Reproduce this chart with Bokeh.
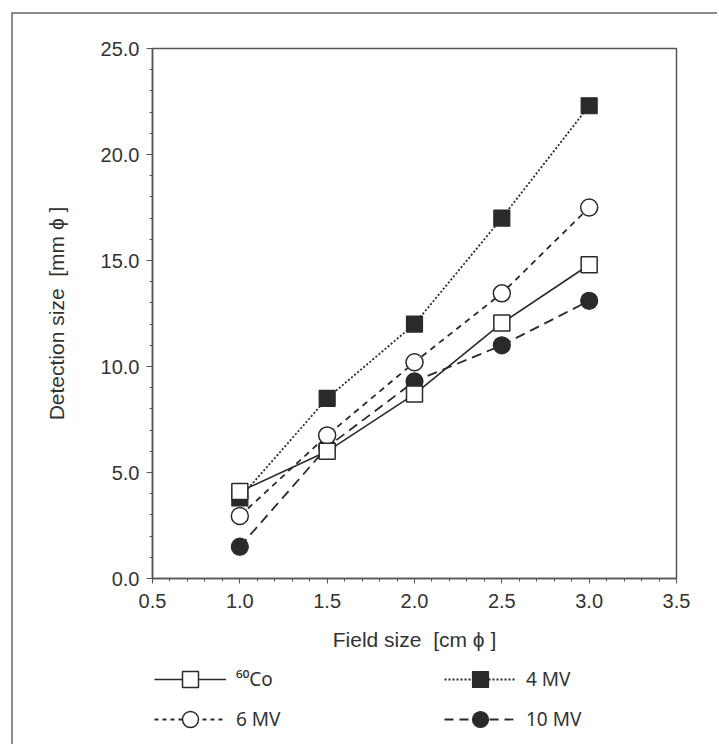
from bokeh.plotting import figure
from bokeh.layouts import column
from bokeh.models import (Range1d, SingleIntervalTicker, PrintfTickFormatter, Legend,
                          LegendItem, Label)
from bokeh.embed import file_html
from bokeh.resources import INLINE

# ---- data ----
field_size = [1.0, 1.5, 2.0, 2.5, 3.0]          # cm phi
co60 = [4.1, 6.0, 8.7, 12.05, 14.8]               # 60Co
mv4 = [3.8, 8.5, 12.0, 17.0, 22.3]                # 4 MV
mv6 = [2.95, 6.75, 10.2, 13.45, 17.5]             # 6 MV
mv10 = [1.5, 6.2, 9.3, 11.0, 13.1]                # 10 MV
series_labels = ["\u2076\u2070Co", "4 MV", "6 MV", "10 MV"]
x_label = "Field size\u00a0\u00a0[cm\u00a0\u03d5\u00a0]"
y_label = "Detection size\u00a0\u00a0[mm\u00a0\u03d5\u00a0]"

FONT = "Liberation Sans"
LFONT = "Noto Sans"
INK = "#2a2a2a"
TXT = "#333333"
AXC = "#555555"

# series styles
STYLES = {
    "co": dict(line_dash="solid", line_width=1.6, marker="square", fill="white", mlw=1.5, size=16),
    "4": dict(line_dash="2 2", line_width=1.8, marker="square", fill=INK, mlw=1.2, size=16),
    "6": dict(line_dash="6 5", line_width=1.8, marker="circle", fill="white", mlw=1.5, size=17),
    "10": dict(line_dash="10 6", line_width=1.8, marker="circle", fill=INK, mlw=1.2, size=17),
}
LEGEND_DASH = {"co": "solid", "4": "2 2", "6": "4 4", "10": "9 6"}
SERIES = {"co": co60, "4": mv4, "6": mv6, "10": mv10}

W = 704
# ---------------- main chart ----------------
p = figure(width=W, height=606, x_range=Range1d(0.5, 3.5), y_range=Range1d(0, 25),
           output_backend="svg", toolbar_location=None,
           min_border_left=139, min_border_top=34, min_border_right=41, min_border_bottom=42)
p.grid.visible = False
p.outline_line_color = AXC
p.outline_line_width = 1.5
p.background_fill_color = "white"
p.border_fill_color = "white"

p.xaxis.ticker = SingleIntervalTicker(interval=0.5, num_minor_ticks=5)
p.yaxis.ticker = SingleIntervalTicker(interval=5, num_minor_ticks=5)
p.xaxis.formatter = PrintfTickFormatter(format="%.1f")
p.yaxis.formatter = PrintfTickFormatter(format="%.1f")
p.yaxis.axis_label = y_label
for ax in (p.xaxis, p.yaxis):
    ax.axis_line_color = AXC
    ax.axis_line_width = 1.5
    ax.major_tick_line_color = AXC
    ax.minor_tick_line_color = AXC
    ax.major_tick_in = 0
    ax.minor_tick_in = 0
    ax.major_label_text_font = FONT
    ax.major_label_text_font_size = "20px"
    ax.major_label_text_color = TXT
    ax.axis_label_text_font = FONT
    ax.axis_label_text_font_size = "21px"
    ax.axis_label_text_font_style = "normal"
    ax.axis_label_text_color = TXT
p.xaxis.major_tick_out = 5
p.xaxis.minor_tick_out = 3
p.yaxis.major_tick_out = 6
p.yaxis.minor_tick_out = 3
p.xaxis.major_label_standoff = 10
p.yaxis.major_label_standoff = 7
p.yaxis.axis_label_standoff = 30

# lines first, then markers (filled first, open ones on top)
for key in ["co", "4", "6", "10"]:
    s = STYLES[key]
    p.line(field_size, SERIES[key], line_color=INK, line_width=s["line_width"], line_dash=s["line_dash"])
for key in ["4", "10", "6", "co"]:
    s = STYLES[key]
    p.scatter(field_size, SERIES[key], marker=s["marker"], size=s["size"], fill_color=s["fill"],
              line_color=INK, line_width=s["mlw"])

# ---------------- x-axis title + legend strip ----------------
H2 = 124
p2 = figure(width=W, height=H2, x_range=Range1d(0.5, 3.5), y_range=Range1d(0, H2),
            output_backend="svg", toolbar_location=None, x_axis_type=None, y_axis_type=None,
            min_border_left=139, min_border_right=41, min_border_top=0, min_border_bottom=0)
p2.grid.visible = False
p2.outline_line_color = None
p2.background_fill_color = "white"
p2.border_fill_color = "white"

# x-axis title, centred under the plot frame
p2.add_layout(Label(x=2.0, y=105, text=x_label, text_align="center",
                    text_baseline="middle", text_font=FONT, text_font_size="21px",
                    text_color=TXT))

# hidden copies of the series that only supply the legend symbols
proxies = {}
for key in ["co", "4", "6", "10"]:
    s = STYLES[key]
    ln = p2.line(field_size, SERIES[key], line_color=INK, line_width=s["line_width"],
                 line_dash=LEGEND_DASH[key], visible=False)
    mk = p2.scatter(field_size, SERIES[key], marker=s["marker"], fill_color=s["fill"],
                    line_color=INK, line_width=s["mlw"], visible=False)
    proxies[key] = [ln, mk]


def make_legend(items, loc):
    lg = Legend(items=items, location=loc, orientation="vertical")
    lg.border_line_color = None
    lg.background_fill_alpha = 0
    lg.inactive_fill_alpha = 0
    lg.padding = 0
    lg.margin = 0
    lg.spacing = 0
    lg.glyph_width = 72
    lg.glyph_height = 40
    lg.label_standoff = 10
    lg.label_text_font = LFONT
    lg.label_text_font_size = "19px"
    lg.label_text_color = TXT
    return lg


p2.add_layout(make_legend([LegendItem(label=series_labels[0], renderers=proxies["co"]),
                           LegendItem(label=series_labels[2], renderers=proxies["6"])], (2, 5)))
p2.add_layout(make_legend([LegendItem(label=series_labels[1], renderers=proxies["4"]),
                           LegendItem(label=series_labels[3], renderers=proxies["10"])], (292, 5)))

page = column(p, p2, spacing=0)
page.styles = {"border-left": "2px solid #8c8c8c", "border-top": "2px solid #8c8c8c"}
page.margin = (12, 0, 0, 11)

open("out.html", "w").write(file_html(page, INLINE))
